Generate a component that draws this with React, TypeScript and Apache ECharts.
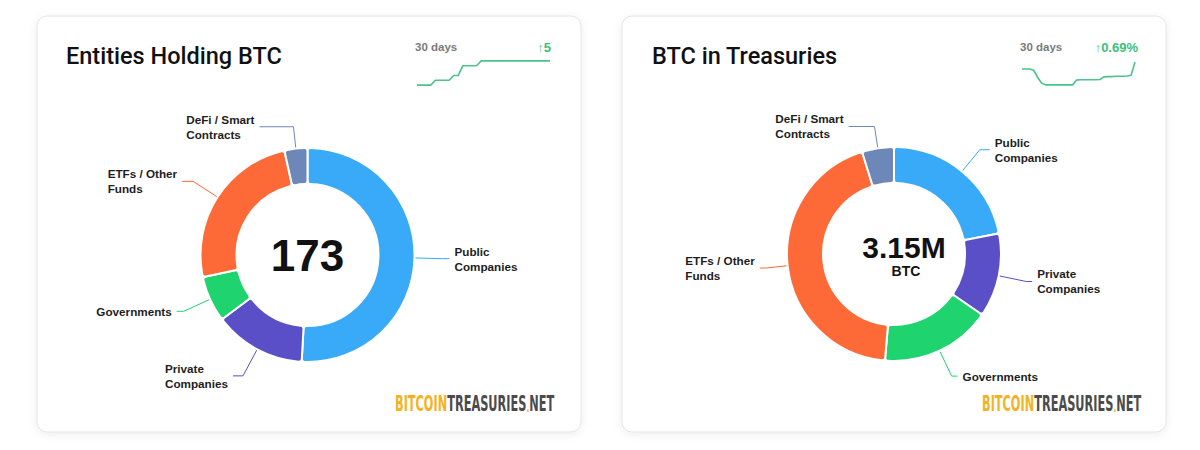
import React, { useEffect, useRef } from 'react';
import * as echarts from 'echarts';

// ---------- data ----------
const categories = ['Public Companies', 'Private Companies', 'Governments', 'ETFs / Other Funds', 'DeFi / Smart Contracts'];
const labelText = [['Public', 'Companies'], ['Private', 'Companies'], ['Governments'], ['ETFs / Other', 'Funds'], ['DeFi / Smart', 'Contracts']];
const entityCounts = [88, 24, 12, 43, 6];
const btcHoldings = [690000, 400000, 527000, 1380000, 152000];
const sliceColors = ['#38aaf8', '#5a4fc7', '#1fd36e', '#fd6a37', '#6d88b8'];

const trendDays = ['1', '2', '3', '4', '5', '6', '7', '8', '9', '10', '11', '12', '13', '14', '15', '16', '17', '18', '19', '20', '21', '22', '23', '24', '25', '26', '27', '28', '29', '30'];
const entitiesTrend = [168, 168, 168, 168, 169, 169, 169, 169, 170, 170, 172, 172, 172, 172, 173, 173, 173, 173, 173, 173, 173, 173, 173, 173, 173, 173, 173, 173, 173, 173];
const btcTrendK = [3128, 3128, 3128, 3124, 3102, 3084, 3078, 3078, 3078, 3078, 3078, 3078, 3078, 3078, 3093, 3094, 3094, 3094, 3094, 3094, 3095, 3103, 3104, 3104, 3105, 3105, 3105, 3106, 3108, 3150];

const titles = ['Entities Holding BTC', 'BTC in Treasuries'];
const periodLabel = '30 days';
const btcChangeLabel = '↑0.69%';

// label-line styling (per slice)
const leftLen = [28, 30, 29, 29, 22];
const leftLen2 = [7, 10, 7, 11, 34];
const rightLen = [28, 28, 28, 22, 22];
const rightLen2 = [10, 6, 6, 6, 26];

const LABEL_FONT = '"Liberation Sans", Arial, sans-serif';

export default function App() {
  const ref = useRef<HTMLDivElement>(null);

  useEffect(() => {
    if (!ref.current) return;
    const chart = echarts.init(ref.current, undefined, { renderer: 'svg' });

    const totalEntities = entityCounts.reduce((a, b) => a + b, 0);
    const totalBtc = btcHoldings.reduce((a, b) => a + b, 0);
    const entityChange = '↑' + (entitiesTrend[entitiesTrend.length - 1] - entitiesTrend[0]);

    const makePie = (values: number[], center: [number, number], len: number[], len2: number[]) => ({
      type: 'pie',
      center,
      radius: [71, 107],
      startAngle: 90,
      clockwise: true,
      avoidLabelOverlap: false,
      silent: true,
      z: 5,
      itemStyle: { borderColor: '#fff', borderWidth: 2, borderRadius: 3 },
      label: {
        show: true,
        formatter: (p: any) => labelText[p.dataIndex].map((l) => `{t|${l}}`).join('\n'),
        rich: {
          t: { align: 'left', fontSize: 11.7, fontWeight: 600, color: '#1e1e1e', lineHeight: 15, fontFamily: LABEL_FONT },
        },
        distanceToLabelLine: 5,
      },
      labelLine: { show: true, length: 28, length2: 6, lineStyle: { width: 1 } },
      emphasis: { disabled: true },
      data: categories.map((name, i) => ({
        name,
        value: values[i],
        itemStyle: { color: sliceColors[i] },
        labelLine: { length: len[i], length2: len2[i] },
      })),
    });

    const card = (x: number) => ({
      type: 'rect',
      z: -10,
      shape: { x, y: 16, width: 544, height: 416, r: 10 },
      style: {
        fill: '#ffffff',
        stroke: '#e4e4e4',
        lineWidth: 1,
        shadowBlur: 8,
        shadowColor: 'rgba(0,0,0,0.07)',
        shadowOffsetY: 2,
      },
    });

    const logoFont = '"DejaVu Sans Condensed", "DejaVu Sans"';
    const logo = (x: number, y: number) => ({
      type: 'text',
      x,
      y,
      scaleX: 0.6,
      style: {
        text: '{y|BITCOIN}{g|TREASURIES}{d|.}{g|NET}',
        verticalAlign: 'middle',
        align: 'left',
        rich: {
          y: { fontSize: 21, fontWeight: 'bold', fontFamily: logoFont, fill: '#f4b223' },
          g: { fontSize: 21, fontWeight: 'bold', fontFamily: logoFont, fill: '#4b4b4b' },
          d: { fontSize: 14, fontWeight: 'bold', fontFamily: logoFont, fill: '#f4b223', padding: [6, 0, 0, 0] },
        },
      },
    });

    const smallText = (x: number, y: number, text: string, color: string, size: number, align: string) => ({
      type: 'text',
      x,
      y,
      style: {
        text,
        fill: color,
        fontSize: size,
        fontWeight: 600,
        fontFamily: LABEL_FONT,
        align,
        verticalAlign: 'middle',
      },
    });

    const option: any = {
      animation: false,
      backgroundColor: '#ffffff',
      title: [
        {
          text: titles[0],
          left: 66,
          top: 44,
          padding: 0,
          textStyle: { fontSize: 23.5, fontWeight: 500, fontFamily: 'Roboto', color: '#111' },
        },
        {
          text: titles[1],
          left: 652,
          top: 44,
          padding: 0,
          textStyle: { fontSize: 23.5, fontWeight: 500, fontFamily: 'Roboto', color: '#111' },
        },
      ],
      grid: [
        { left: 417, top: 56, width: 133, height: 34 },
        { left: 1022, top: 55.6, width: 113, height: 35 },
      ],
      xAxis: [
        { type: 'category', gridIndex: 0, data: trendDays, boundaryGap: false, show: false },
        { type: 'category', gridIndex: 1, data: trendDays, boundaryGap: false, show: false },
      ],
      yAxis: [
        { type: 'value', gridIndex: 0, min: 167, max: 174, show: false },
        { type: 'value', gridIndex: 1, min: 3060, max: 3170, show: false },
      ],
      series: [
        makePie(entityCounts, [307.5, 255], leftLen, leftLen2),
        makePie(btcHoldings, [894, 254], rightLen, rightLen2),
        {
          type: 'line',
          xAxisIndex: 0,
          yAxisIndex: 0,
          data: entitiesTrend,
          symbol: 'none',
          silent: true,
          lineStyle: { color: '#4cc38a', width: 1.6 },
        },
        {
          type: 'line',
          xAxisIndex: 1,
          yAxisIndex: 1,
          data: btcTrendK,
          symbol: 'none',
          silent: true,
          lineStyle: { color: '#4cc38a', width: 1.6 },
        },
      ],
      graphic: [
        card(37),
        card(622),
        smallText(415, 47, periodLabel, '#7a7a7a', 11.5, 'left'),
        smallText(551, 47, entityChange, '#3dbf7c', 13, 'right'),
        smallText(1020, 47, periodLabel, '#7a7a7a', 11.5, 'left'),
        smallText(1138, 47, btcChangeLabel, '#3dbf7c', 13, 'right'),
        {
          type: 'text',
          x: 307.5,
          y: 255,
          z: 10,
          style: {
            text: String(totalEntities),
            fill: '#111',
            fontSize: 44,
            fontWeight: 'bold',
            fontFamily: LABEL_FONT,
            align: 'center',
            verticalAlign: 'middle',
          },
        },
        {
          type: 'text',
          x: 904,
          y: 247,
          z: 10,
          style: {
            text: (totalBtc / 1e6).toFixed(2) + 'M',
            fill: '#111',
            fontSize: 30,
            fontWeight: 'bold',
            fontFamily: LABEL_FONT,
            align: 'center',
            verticalAlign: 'middle',
          },
        },
        {
          type: 'text',
          x: 906,
          y: 271,
          z: 10,
          style: {
            text: 'BTC',
            fill: '#111',
            fontSize: 14,
            fontWeight: 'bold',
            fontFamily: LABEL_FONT,
            align: 'center',
            verticalAlign: 'middle',
          },
        },
        logo(395, 404),
        logo(982, 404),
      ],
    };

    chart.setOption(option);
    return () => chart.dispose();
  }, []);

  return <div ref={ref} style={{ position: 'absolute', left: 0, top: 0, width: 1200, height: 450 }} />;
}
